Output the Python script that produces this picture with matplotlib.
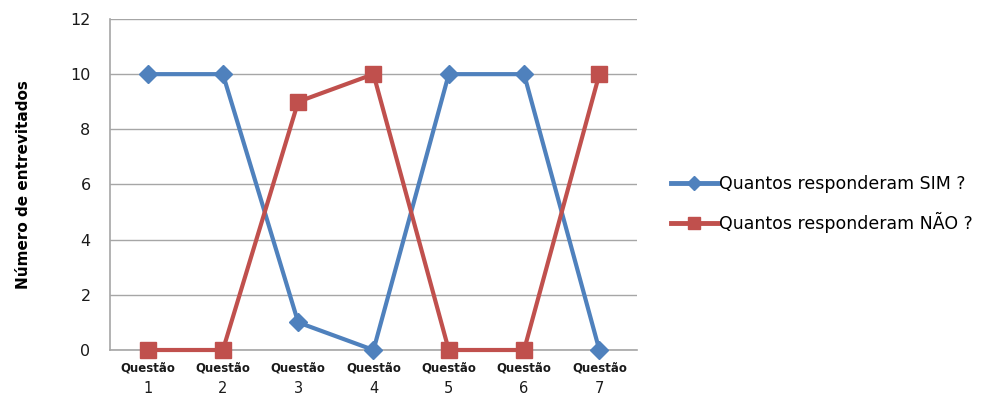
import matplotlib
matplotlib.use("Agg")
import matplotlib.pyplot as plt
import matplotlib.transforms as mtransforms
from matplotlib.lines import Line2D

categories = ["1", "2", "3", "4", "5", "6", "7"]
sim = [10, 10, 1, 0, 10, 10, 0]
nao = [0, 0, 9, 10, 0, 0, 10]
yticks = [0, 2, 4, 6, 8, 10, 12]
series_names = ["Quantos responderam SIM ?", "Quantos responderam NÃO ?"]

blue = "#4F81BD"
red = "#C0504D"
grid_col = "#A6A6A6"

fig = plt.figure(figsize=(9.87, 3.98), dpi=100)
ax = fig.add_axes([0.1114, 0.1206, 0.5340, 0.8317])

x = list(range(len(categories)))
ax.plot(x, sim, color=blue, lw=3, marker="D", markersize=9.5,
        zorder=3, clip_on=False)
ax.plot(x, nao, color=red, lw=3, marker="s", markersize=11,
        zorder=4, clip_on=False)

ax.set_xlim(-0.5, len(categories) - 0.5)
ax.set_ylim(0, 12)
ax.set_yticks(yticks)
ax.set_yticklabels([str(v) for v in yticks], fontsize=11.5, color="#1a1a1a")
ax.yaxis.grid(True, color=grid_col, lw=1)
ax.set_axisbelow(True)
ax.tick_params(axis="y", length=0, pad=14)
ax.tick_params(axis="x", length=0)
ax.set_xticks(x)
ax.set_xticklabels([])

for s in ["top", "right"]:
    ax.spines[s].set_visible(False)
for s in ["left", "bottom"]:
    ax.spines[s].set_color(grid_col)
    ax.spines[s].set_linewidth(1.2)

trans = mtransforms.blended_transform_factory(ax.transData, ax.transAxes)
for xi, c in zip(x, categories):
    ax.text(xi, -0.035, "Questão", transform=trans, ha="center", va="top",
            fontsize=8.5, fontweight="bold", color="#1a1a1a")
    ax.text(xi, -0.095, c, transform=trans, ha="center", va="top",
            fontsize=10.5, color="#1a1a1a")

ax.set_ylabel("Número de entrevitados", fontsize=11, fontweight="bold",
              labelpad=28)

handles = [
    Line2D([], [], color=blue, lw=3.5, marker="D", markersize=7),
    Line2D([], [], color=red, lw=3.5, marker="s", markersize=9),
]
fig.legend(handles, series_names, loc="center left",
           bbox_to_anchor=(0.664, 0.487), frameon=False,
           fontsize=12.5, handlelength=2.7, handletextpad=0.05,
           labelspacing=1.1)

fig.savefig("out.png", dpi=100)
